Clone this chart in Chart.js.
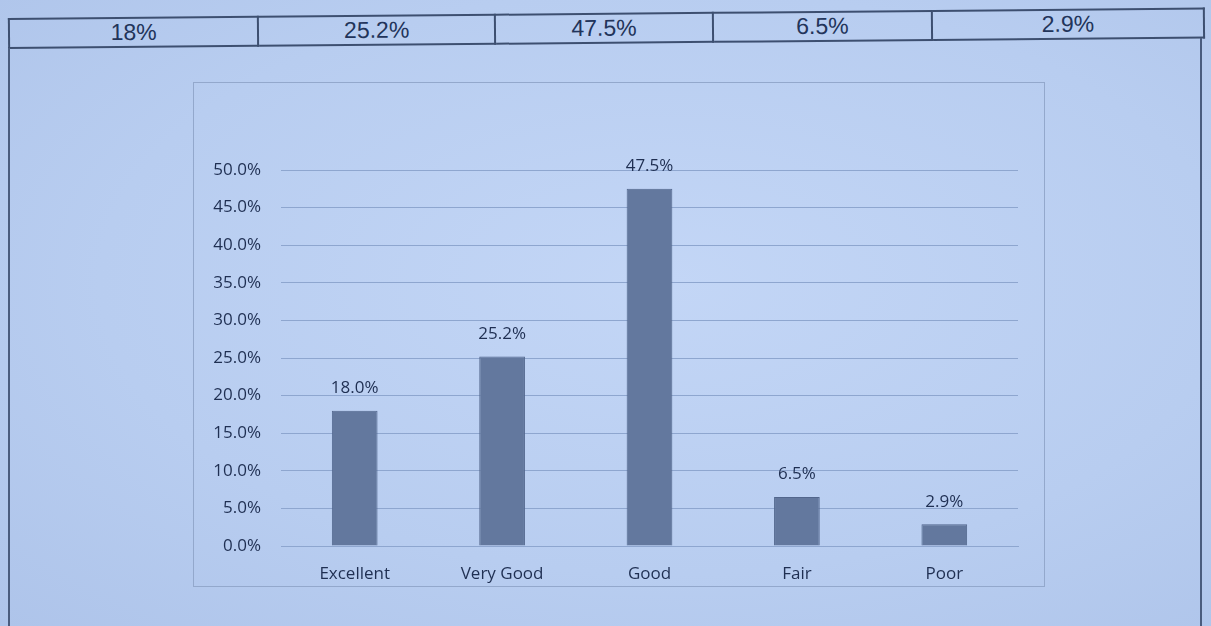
<!DOCTYPE html>
<html>
<head>
<meta charset="utf-8">
<script src="https://cdn.jsdelivr.net/npm/chart.js@4/dist/chart.umd.min.js"></script>
<style>
  html, body { margin: 0; padding: 0; }
  body {
    width: 1211px; height: 626px; overflow: hidden; position: relative;
    background: radial-gradient(ellipse at 55% 45%, #c3d6f6 0%, #b8cdf0 60%, #aec4ea 100%);
    font-family: "Liberation Sans", Arial, sans-serif;
  }
  #tbl {
    position: absolute; left: 8px; top: 18px; width: 1197px;
    border-collapse: collapse; transform: rotate(-0.5deg); transform-origin: 0 50%;
  }
  #tbl td {
    border: 2px solid #3d4f70; height: 27px; padding: 0;
    text-align: center; font-size: 23px; color: #22345a;
    font-family: "Liberation Sans Narrow", "Liberation Sans", Arial, sans-serif;
  }
  .frame { position: absolute; top: 48px; bottom: 0; width: 0; border-left: 2px solid #4a5c7e; }
  #box {
    position: absolute; left: 193px; top: 82px; width: 852px; height: 505px;
    border: 1px solid #93a8cc; box-sizing: border-box;
  }
</style>
</head>
<body>
<table id="tbl"><tr id="row"></tr></table>
<div class="frame" style="left:8px"></div>
<div class="frame" style="left:1200px; top:38px"></div>
<div id="box"><canvas id="chart"></canvas></div>
<script>
var categories = ["Excellent", "Very Good", "Good", "Fair", "Poor"];
var values = [18.0, 25.2, 47.5, 6.5, 2.9];
var cellWidths = [250, 237, 218, 219, 273];

// top table with the raw percentages
var row = document.getElementById("row");
for (var i = 0; i < values.length; i++) {
    var td = document.createElement("td");
    td.style.width = cellWidths[i] + "px";
    td.textContent = values[i] + "%";
    row.appendChild(td);
}

var textColor = "#1f2f52";
var font = '"Open Sans", sans-serif';

// value labels above the bars
var barLabels = {
    id: "barLabels",
    afterDatasetsDraw: function(chart) {
        var ctx = chart.ctx;
        var meta = chart.getDatasetMeta(0);
        ctx.save();
        ctx.font = "17px " + font;
        ctx.fillStyle = textColor;
        ctx.textAlign = "center";
        ctx.textBaseline = "bottom";
        meta.data.forEach(function(bar, idx) {
            ctx.fillText(values[idx].toFixed(1) + "%", bar.x, bar.y - 14);
        });
        ctx.restore();
    }
};

var ctx = document.getElementById("chart").getContext("2d");
ctx.canvas.width = 850;
ctx.canvas.height = 503;

var myChart = new Chart(ctx, {
    type: "bar",
    data: {
        labels: categories,
        datasets: [{
            data: values,
            backgroundColor: "#63789e",
            borderColor: "#52668c",
            borderWidth: 1,
            barPercentage: 0.62,
            categoryPercentage: 0.5
        }]
    },
    options: {
        responsive: false,
        animation: false,
        layout: { padding: { top: 87, right: 26, left: 10, bottom: 0 } },
        plugins: {
            legend: { display: false },
            tooltip: { enabled: false }
        },
        scales: {
            x: {
                grid: { display: false },
                border: { color: "#8ea6cf", width: 1 },
                ticks: {
                    color: textColor, padding: 10,
                    font: { family: font, size: 17 }
                },
                afterFit: function(scale) { scale.height = 40; }
            },
            y: {
                min: 0, max: 50,
                ticks: {
                    stepSize: 5, color: textColor, padding: 20,
                    font: { family: font, size: 17 },
                    callback: function(v) { return v.toFixed(1) + "%"; }
                },
                grid: { color: "#8ea6cf", lineWidth: 1, drawTicks: false },
                border: { display: false },
                afterFit: function(scale) { scale.width = 77; }
            }
        }
    },
    plugins: [barLabels]
});
</script>
</body>
</html>
